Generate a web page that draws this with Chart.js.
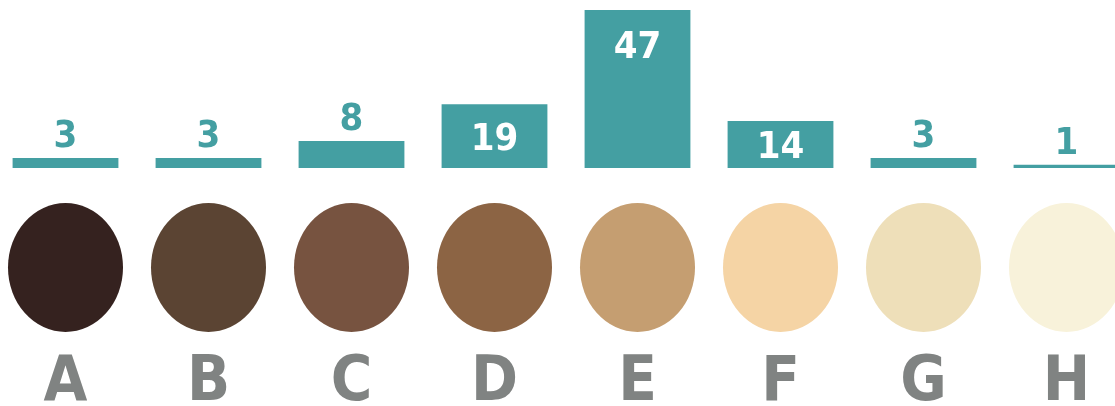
<!DOCTYPE html>
<html>
<head>
<meta charset="utf-8">
<script src="https://cdn.jsdelivr.net/npm/chart.js@4.4.1/dist/chart.umd.min.js"></script>
<style>
  html, body { margin: 0; padding: 0; background: #fff; overflow: hidden; }
  #wrap { position: absolute; left: -6px; top: 0; width: 1144px; height: 406px; }
</style>
</head>
<body>
<div id="wrap"><canvas id="skinChart"></canvas></div>
<script>
// categories and values
var categories = ['A', 'B', 'C', 'D', 'E', 'F', 'G', 'H'];
var counts = [3, 3, 8, 19, 47, 14, 3, 1];
var skinColors = ['#35221f', '#5b4433', '#775340', '#8c6444', '#c59e71', '#f5d4a5', '#eedfb9', '#f8f2da'];

var TEAL = '#449fa2';

// swatches and letters under each bar + value labels
var swatchPlugin = {
    id: 'swatches',
    afterDatasetsDraw: function (chart) {
        var ctx = chart.ctx;
        var xs = chart.scales.x;
        var bottom = chart.chartArea.bottom;
        ctx.save();
        ctx.textAlign = 'center';
        ctx.textBaseline = 'alphabetic';
        ctx.font = 'bold 63px "Liberation Sans Narrow", "DejaVu Sans Condensed", sans-serif';
        for (var i = 0; i < categories.length; i++) {
            var cx = xs.getPixelForValue(i);
            ctx.beginPath();
            ctx.ellipse(cx, bottom + 99.5, 57.5, 64.5, 0, 0, Math.PI * 2);
            ctx.fillStyle = skinColors[i];
            ctx.fill();
            ctx.fillStyle = '#808382';
            ctx.fillText(categories[i], cx, bottom + 232);
        }

        var meta = chart.getDatasetMeta(0);
        ctx.font = 'bold 38px "DejaVu Sans Condensed", "DejaVu Sans", sans-serif';
        meta.data.forEach(function (bar, i) {
            var v = counts[i];
            if (v >= 10) {
                var mid = Math.min((bar.y + bar.base) / 2, bar.y + 34);
                ctx.fillStyle = '#ffffff';
                ctx.fillText(v, bar.x, mid + 14);
            } else {
                ctx.fillStyle = TEAL;
                ctx.fillText(v, bar.x, bar.y - 11);
            }
        });
        ctx.restore();
    }
};

var ctx = document.getElementById('skinChart').getContext('2d');
var chart = new Chart(ctx, {
    type: 'bar',
    data: {
        labels: categories,
        datasets: [{
            data: counts,
            backgroundColor: TEAL,
            borderWidth: 0,
            categoryPercentage: 1,
            barPercentage: 0.74
        }]
    },
    options: {
        responsive: true,
        maintainAspectRatio: false,
        animation: false,
        layout: { padding: { top: 0, left: 0, right: 0, bottom: 238 } },
        plugins: {
            legend: { display: false },
            tooltip: { enabled: false }
        },
        scales: {
            x: { display: false },
            y: { display: false, min: 0, max: 50 }
        }
    },
    plugins: [swatchPlugin]
});
</script>
</body>
</html>
